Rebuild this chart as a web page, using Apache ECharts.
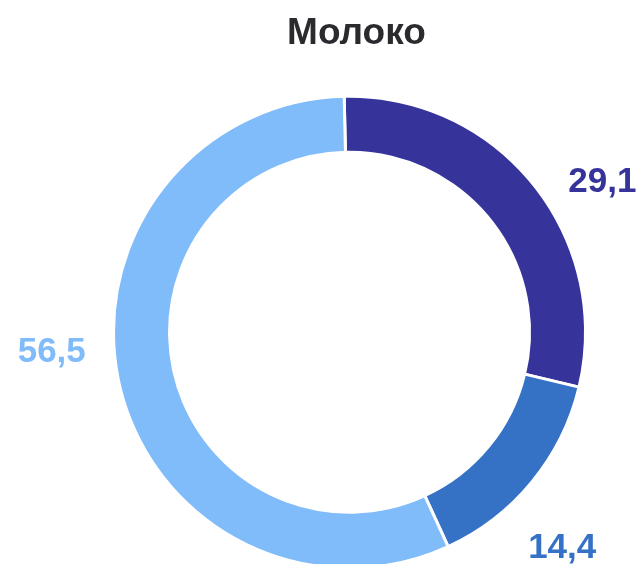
<!DOCTYPE html>
<html>
<head>
<meta charset="utf-8">
<script src="https://cdn.jsdelivr.net/npm/echarts@6/dist/echarts.min.js"></script>
<style>
  html, body { margin: 0; padding: 0; background: #fff; }
  #chart { width: 639px; height: 564px; }
</style>
</head>
<body>
<div id="chart"></div>
<script>
  const TITLE = 'Молоко';
  const NAMES = ['A', 'B', 'C'];
  const VALUES = [29.1, 14.4, 56.5];

  const COLORS = ['#36339b', '#3572c6', '#80bbfa'];
  // shift of each outside label from its default spot
  const LABEL_SHIFT = [[24, 3], [-15, 61], [-21, -35]];

  const chart = echarts.init(document.getElementById('chart'));
  chart.setOption({
    animation: false,
    title: {
      text: TITLE,
      left: '55%',
      textAlign: 'center',
      top: 10,
      textStyle: { fontFamily: 'Liberation Sans', fontSize: 37, fontWeight: 'bold', color: '#2b2b2f' },
    },
    series: [{
      type: 'pie',
      center: ['54.7%', '58.9%'],
      radius: [180, 236],
      startAngle: 91.3,
      avoidLabelOverlap: false,
      itemStyle: { borderColor: '#fff', borderWidth: 3 },
      label: {
        show: true,
        position: 'outside',
        fontFamily: 'Liberation Sans',
        fontSize: 35,
        fontWeight: 'bold',
        formatter: (p) => String(p.value).replace('.', ','),
      },
      labelLine: { show: false, length: 8, length2: 0 },
      labelLayout: (p) => ({ dx: LABEL_SHIFT[p.dataIndex][0], dy: LABEL_SHIFT[p.dataIndex][1] }),
      data: VALUES.map((v, i) => ({
        value: v,
        name: NAMES[i],
        itemStyle: { color: COLORS[i] },
        label: { color: COLORS[i] },
      })),
    }],
  });
</script>
</body>
</html>
